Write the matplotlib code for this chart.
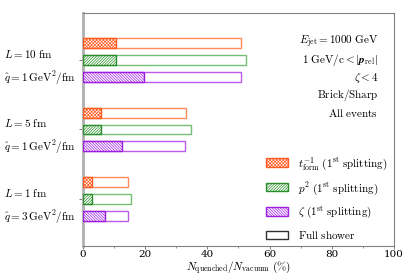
import numpy as np
import matplotlib
matplotlib.use('Agg')
import matplotlib.pyplot as plt
from matplotlib.patches import Patch

plt.rcParams['mathtext.fontset'] = 'cm'
plt.rcParams['font.family'] = 'serif'
plt.rcParams['font.serif'] = ['DejaVu Serif']
plt.rcParams['font.size'] = 8
plt.rcParams['hatch.linewidth'] = 0.5

# Data (percent of vacuum), groups from top to bottom
groups = [r'$L = 10\ \mathrm{fm}$' + '\n' + r'$\hat{q} = 1\,\mathrm{GeV}^2/\mathrm{fm}$',
          r'$L = 5\ \mathrm{fm}$' + '\n' + r'$\hat{q} = 1\,\mathrm{GeV}^2/\mathrm{fm}$',
          r'$L = 1\ \mathrm{fm}$' + '\n' + r'$\hat{q} = 3\,\mathrm{GeV}^2/\mathrm{fm}$']
full_tform = [50.8, 33.0, 14.6]
full_p2 = [52.4, 34.9, 15.6]
full_zeta = [50.7, 32.9, 14.6]
first_tform = [10.5, 5.9, 2.8]
first_p2 = [10.5, 5.9, 2.8]
first_zeta = [19.6, 12.6, 7.2]

colors = ['#ff5a1f', '#2a8f2a', '#9d1ee0']
light = ['#ff8a5c', '#74bf74', '#bb5ae8']
hatches = ['xxxxxxxxxx', '////////////', '\\' * 12]
full = [full_tform, full_p2, full_zeta]
first = [first_tform, first_p2, first_zeta]
offsets = [-0.243, 0.0, 0.243]

fig = plt.figure(figsize=(4.15, 2.77), dpi=100)
ax = fig.add_axes([0.2, 0.112, 0.749, 0.841])
y = np.arange(len(groups))
h = 0.14

for i in range(3):
    ax.barh(y + offsets[i], full[i], height=h, color='white',
            edgecolor=light[i], linewidth=1.0, zorder=2)
    ax.barh(y + offsets[i], first[i], height=h, color='white',
            edgecolor=colors[i], hatch=hatches[i], linewidth=1.0, zorder=3)

ax.set_xlim(0, 100)
ax.set_ylim(2.68, -0.68)
ax.set_yticks(y)
ax.set_yticklabels(groups, linespacing=1.75, multialignment='left')
ax.set_xticks(np.arange(0, 101, 20))
ax.set_xticks(np.arange(10, 100, 20), minor=True)
ax.tick_params(axis='x', which='major', length=2.5, width=0.6, color='#666666',
               pad=0.5, labelsize=7.5)
ax.tick_params(axis='x', which='minor', length=1.5, width=0.5, color='#666666')
ax.tick_params(axis='y', length=3, width=0.6, color='#666666', pad=2)
ax.set_xlabel(r'$N_\mathrm{quenched}/N_\mathrm{vacuum}\ (\%)$', va='center')
ax.xaxis.set_label_coords(0.5, -0.092)

for side in ['top', 'right', 'bottom']:
    ax.spines[side].set_color('#808080')
    ax.spines[side].set_linewidth(0.8)
ax.spines['left'].set_color('#b0b0b0')
ax.spines['left'].set_linewidth(2.0)

info = [r'$E_\mathrm{jet} = 1000\ \mathrm{GeV}$',
        r'$1\ \mathrm{GeV/c} < |\boldsymbol{p}_\mathrm{rel}|$',
        r'$\zeta < 4$',
        r'$\mathrm{Brick/Sharp}$',
        r'$\mathrm{All\ events}$']
for k, t in enumerate(info):
    ax.text(0.95, 0.876 - k * 0.0765, t, transform=ax.transAxes,
            ha='right', va='center', fontsize=8)

handles = [Patch(facecolor='white', edgecolor=colors[0], hatch=hatches[0], linewidth=1.0),
           Patch(facecolor='white', edgecolor=colors[1], hatch=hatches[1], linewidth=1.0),
           Patch(facecolor='white', edgecolor=colors[2], hatch=hatches[2], linewidth=1.0),
           Patch(facecolor='white', edgecolor='#333333', linewidth=1.0)]
labels = [r'$t_\mathrm{form}^{-1}\ (1^\mathrm{st}\ \mathrm{splitting})$',
          r'$p^2\ (1^\mathrm{st}\ \mathrm{splitting})$',
          r'$\zeta\ (1^\mathrm{st}\ \mathrm{splitting})$',
          r'$\mathrm{Full\ shower}$']
ax.legend(handles, labels, loc='upper left', bbox_to_anchor=(0.575, 0.41),
          frameon=False, handlelength=2.0, handleheight=0.8,
          handletextpad=0.9, labelspacing=0.7, borderaxespad=0, fontsize=8)

fig.savefig('out.png', dpi=100)
